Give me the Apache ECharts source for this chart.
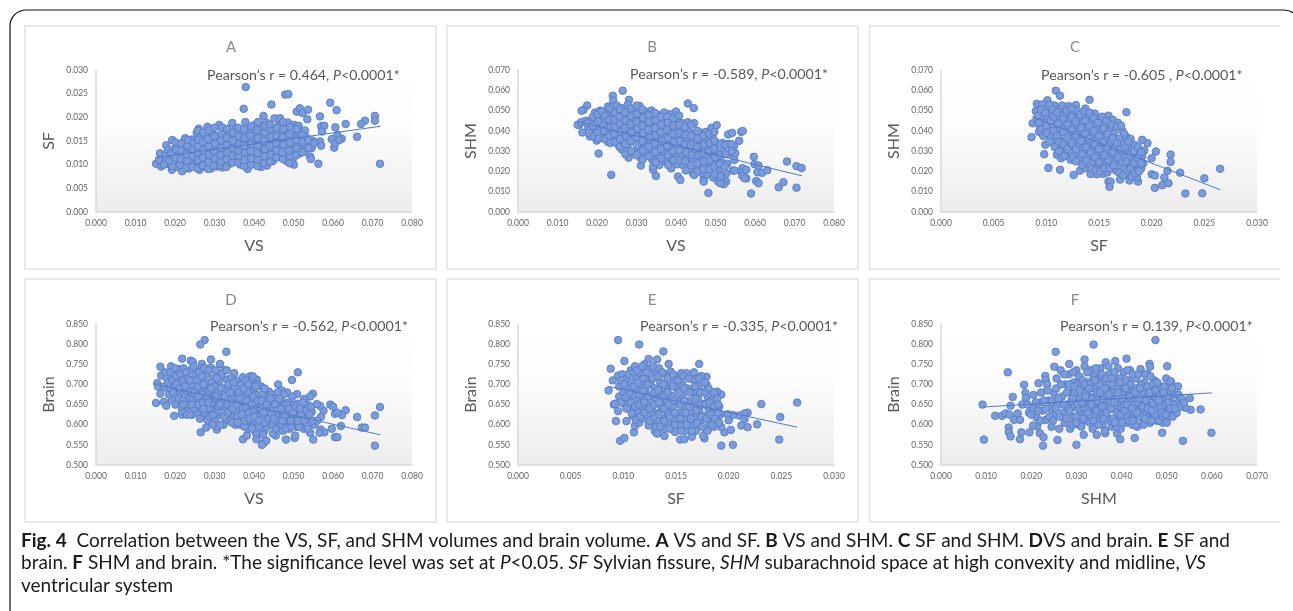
<!DOCTYPE html>
<html><head><meta charset="utf-8">
<style>html,body{margin:0;padding:0;background:#fff;overflow:hidden}#c{width:1293px;height:611px}</style>
<script src="https://cdn.jsdelivr.net/npm/echarts@6/dist/echarts.min.js"></script>
</head><body><div id="c"></div>
<script>
const pointsA=[[.0379,.0264],[.0479,.0248],[.0487,.0249],[.0374,.0218],[.0444,.0227],[.0593,.0231],[.0609,.0215],[.0508,.0212],[.0516,.0219],[.0523,.0209],[.0537,.0216],[.0535,.0196],[.0567,.0202],[.0706,.0203],[.0706,.0193],[.0681,.0193],[.0671,.0186],[.0632,.0186],[.0606,.0179],[.0570,.0181],[.0578,.0182],[.0572,.0170],[.0661,.0159],[.0719,.0102],[.0563,.0102],[.0622,.0155],[.0611,.0163],[.0597,.0154],[.0603,.0136],[.0605,.0145],[.0616,.0152],[.0567,.0149],[.0570,.0140],[.0546,.0135],[.0542,.0117],[.0544,.0112],
[.0152,.0102],[.0165,.0096],[.0170,.0109],[.0162,.0124],[.0178,.0141],[.0184,.0101],[.0188,.0116],[.0192,.0089],[.0196,.0131],[.0193,.0152],[.0205,.0095],[.0208,.0108],[.0210,.0122],[.0206,.0140],[.0218,.0086],[.0222,.0101],[.0220,.0115],[.0224,.0132],[.0222,.0148],[.0226,.0156],[.0235,.0092],[.0238,.0110],[.0236,.0125],[.0240,.0139],[.0242,.0153],[.0250,.0100],[.0252,.0117],[.0254,.0131],[.0250,.0146],[.0255,.0167],[.0262,.0089],[.0265,.0107],[.0263,.0122],[.0268,.0137],[.0262,.0157],[.0260,.0176],[.0275,.0096],[.0278,.0113],[.0280,.0128],[.0276,.0146],[.0278,.0162],[.0282,.0180],[.0292,.0092],[.0294,.0105],[.0291,.0120],[.0296,.0135],[.0290,.0151],[.0293,.0170],[.0306,.0096],[.0308,.0112],[.0304,.0127],[.0310,.0143],[.0306,.0160],[.0312,.0184],[.0320,.0094],[.0323,.0104],[.0322,.0119],[.0325,.0134],[.0321,.0152],[.0327,.0172],[.0336,.0101],[.0339,.0116],[.0337,.0130],[.0341,.0146],[.0338,.0163],[.0345,.0188],[.0352,.0108],[.0355,.0123],[.0351,.0138],[.0356,.0155],[.0353,.0176],[.0366,.0100],[.0368,.0115],[.0370,.0131],[.0367,.0147],[.0369,.0165],[.0378,.0190],[.0384,.0091],[.0385,.0108],[.0383,.0122],[.0386,.0139],[.0382,.0155],[.0388,.0172],[.0400,.0102],[.0402,.0117],[.0399,.0133],[.0403,.0148],[.0400,.0167],[.0402,.0184],[.0418,.0095],[.0416,.0110],[.0419,.0126],[.0417,.0142],[.0420,.0159],[.0424,.0203],[.0420,.0178],[.0433,.0098],[.0435,.0114],[.0432,.0131],[.0436,.0149],[.0433,.0168],[.0431,.0189],[.0448,.0108],[.0450,.0122],[.0447,.0138],[.0451,.0156],[.0449,.0174],[.0452,.0198],[.0466,.0198],[.0464,.0118],[.0466,.0133],[.0463,.0148],[.0467,.0165],[.0462,.0182],[.0482,.0108],[.0480,.0121],[.0483,.0137],[.0479,.0153],[.0484,.0171],[.0486,.0189],[.0501,.0100],[.0498,.0112],[.0503,.0127],[.0500,.0144],[.0497,.0162],[.0502,.0184],[.0516,.0124],[.0514,.0139],[.0518,.0155],[.0515,.0168],[.0513,.0182],[.0530,.0128],[.0528,.0142],[.0532,.0158],[.0529,.0172],[.0548,.0151],[.0552,.0146],
[.0160,.0110],[.0172,.0100],[.0176,.0120],[.0182,.0131],[.0186,.0108],[.0190,.0124],[.0194,.0096],[.0200,.0114],[.0201,.0147],[.0203,.0132],[.0212,.0100],[.0214,.0112],[.0215,.0130],[.0216,.0145],[.0228,.0094],[.0230,.0108],[.0229,.0122],[.0231,.0140],[.0233,.0152],[.0244,.0096],[.0245,.0118],[.0246,.0132],[.0247,.0146],[.0257,.0092],[.0258,.0110],[.0259,.0125],[.0258,.0139],[.0259,.0152],[.0258,.0172],[.0270,.0098],[.0271,.0115],[.0272,.0130],[.0270,.0148],[.0271,.0168],[.0284,.0091],[.0285,.0105],[.0286,.0121],[.0285,.0138],[.0284,.0154],[.0286,.0173],[.0298,.0098],[.0300,.0113],[.0299,.0128],[.0301,.0144],[.0300,.0160],[.0300,.0178],[.0314,.0098],[.0316,.0106],[.0315,.0120],[.0317,.0136],[.0316,.0151],[.0318,.0165],[.0319,.0179],[.0330,.0095],[.0331,.0112],[.0332,.0126],[.0330,.0141],[.0331,.0157],[.0332,.0176],[.0345,.0104],[.0346,.0119],[.0347,.0134],[.0346,.0150],[.0347,.0167],[.0360,.0105],[.0361,.0118],[.0360,.0130],[.0362,.0143],[.0361,.0160],[.0360,.0178],[.0375,.0097],[.0376,.0110],[.0377,.0125],[.0375,.0140],[.0376,.0156],[.0375,.0175],[.0392,.0100],[.0393,.0113],[.0392,.0128],[.0393,.0144],[.0391,.0162],[.0393,.0181],[.0408,.0097],[.0410,.0110],[.0409,.0124],[.0410,.0140],[.0409,.0156],[.0408,.0173],[.0410,.0190],[.0425,.0103],[.0426,.0118],[.0427,.0133],[.0426,.0150],[.0427,.0168],[.0428,.0182],[.0441,.0106],[.0442,.0121],[.0441,.0140],[.0442,.0158],[.0441,.0176],[.0440,.0185],[.0456,.0115],[.0457,.0130],[.0456,.0146],[.0457,.0162],[.0458,.0178],[.0473,.0112],[.0472,.0126],[.0474,.0142],[.0473,.0158],[.0474,.0175],[.0473,.0190],[.0490,.0103],[.0491,.0118],[.0490,.0130],[.0491,.0147],[.0490,.0165],[.0491,.0180],[.0507,.0120],[.0508,.0135],[.0507,.0152],[.0508,.0175],[.0522,.0126],[.0523,.0148],[.0522,.0163],[.0538,.0135],[.0537,.0152]];
const pointsB=[[.0265,.0598],[.0240,.0573],[.0241,.0550],[.0281,.0553],[.0430,.0535],[.0445,.0512],[.0175,.0525],[.0166,.0504],[.0161,.0499],[.0155,.0430],[.0151,.0430],[.0163,.0392],[.0204,.0288],[.0236,.0183],[.0311,.0229],[.0349,.0178],[.0342,.0208],[.0342,.0224],[.0405,.0175],[.0411,.0158],[.0443,.0191],[.0446,.0183],[.0470,.0158],[.0470,.0150],[.0482,.0094],[.0590,.0091],[.0660,.0122],[.0672,.0147],[.0705,.0120],[.0681,.0249],[.0705,.0226],[.0718,.0217],[.0597,.0272],[.0599,.0236],[.0609,.0229],[.0606,.0196],[.0618,.0193],[.0631,.0206],[.0603,.0153],[.0609,.0142],[.0568,.0216],[.0567,.0194],[.0578,.0208],[.0568,.0178],[.0578,.0166],[.0574,.0166],[.0565,.0395],[.0569,.0399],[.0532,.0382],[.0542,.0390],[.0560,.0351],[.0548,.0257],[.0544,.0204],[.0548,.0204],[.0527,.0188],[.0523,.0150],[.0527,.0150],[.0521,.0137],[.0507,.0150],[.0512,.0142],
[.0160,.0443],[.0172,.0450],[.0178,.0415],[.0182,.0372],[.0186,.0455],[.0195,.0490],[.0197,.0432],[.0195,.0395],[.0199,.0352],[.0208,.0500],[.0210,.0468],[.0206,.0412],[.0212,.0376],[.0215,.0448],[.0226,.0492],[.0228,.0520],[.0224,.0425],[.0225,.0390],[.0228,.0345],[.0238,.0505],[.0240,.0470],[.0236,.0438],[.0241,.0402],[.0238,.0362],[.0250,.0525],[.0252,.0488],[.0248,.0452],[.0254,.0415],[.0250,.0378],[.0252,.0338],[.0264,.0512],[.0266,.0470],[.0262,.0432],[.0268,.0395],[.0265,.0355],[.0263,.0308],[.0278,.0530],[.0280,.0492],[.0276,.0450],[.0282,.0412],[.0279,.0372],[.0277,.0328],[.0280,.0268],[.0293,.0500],[.0295,.0465],[.0291,.0428],[.0296,.0390],[.0292,.0350],[.0294,.0295],[.0308,.0522],[.0306,.0478],[.0310,.0440],[.0305,.0402],[.0309,.0362],[.0307,.0320],[.0310,.0268],[.0323,.0495],[.0325,.0458],[.0321,.0418],[.0326,.0380],[.0322,.0340],[.0324,.0290],[.0338,.0500],[.0340,.0470],[.0336,.0432],[.0341,.0392],[.0337,.0352],[.0339,.0308],[.0340,.0258],[.0354,.0478],[.0356,.0445],[.0352,.0405],[.0357,.0368],[.0353,.0325],[.0355,.0278],[.0358,.0232],[.0370,.0490],[.0372,.0455],[.0368,.0418],[.0373,.0380],[.0369,.0340],[.0371,.0295],[.0372,.0250],[.0385,.0482],[.0387,.0435],[.0383,.0398],[.0388,.0358],[.0384,.0315],[.0386,.0270],[.0388,.0215],[.0400,.0495],[.0402,.0455],[.0398,.0410],[.0403,.0372],[.0399,.0332],[.0401,.0285],[.0403,.0235],[.0416,.0438],[.0418,.0402],[.0414,.0360],[.0419,.0320],[.0415,.0278],[.0417,.0232],[.0430,.0442],[.0432,.0395],[.0428,.0352],[.0433,.0305],[.0429,.0262],[.0425,.0205],[.0446,.0438],[.0448,.0390],[.0444,.0345],[.0449,.0300],[.0445,.0255],[.0450,.0210],[.0462,.0392],[.0464,.0350],[.0460,.0310],[.0465,.0268],[.0461,.0225],[.0467,.0190],[.0476,.0395],[.0478,.0355],[.0474,.0312],[.0479,.0270],[.0475,.0228],[.0480,.0185],[.0490,.0415],[.0492,.0372],[.0488,.0328],[.0493,.0285],[.0489,.0240],[.0494,.0170],[.0503,.0428],[.0505,.0338],[.0501,.0300],[.0506,.0255],[.0509,.0215],[.0518,.0340],[.0520,.0298],[.0516,.0245],[.0515,.0180],[.0532,.0335],[.0535,.0288],[.0530,.0238],[.0547,.0325],[.0550,.0290],
[.0175,.0437],[.0180,.0390],[.0190,.0470],[.0190,.0425],[.0192,.0372],[.0202,.0482],[.0203,.0448],[.0201,.0390],[.0204,.0362],[.0213,.0495],[.0216,.0425],[.0218,.0400],[.0219,.0360],[.0220,.0475],[.0232,.0510],[.0231,.0455],[.0233,.0415],[.0232,.0375],[.0234,.0340],[.0245,.0490],[.0244,.0455],[.0246,.0420],[.0244,.0385],[.0245,.0345],[.0258,.0505],[.0257,.0470],[.0258,.0435],[.0259,.0395],[.0258,.0360],[.0257,.0320],[.0271,.0490],[.0272,.0450],[.0270,.0412],[.0273,.0375],[.0271,.0335],[.0272,.0285],[.0285,.0510],[.0286,.0472],[.0285,.0432],[.0287,.0392],[.0285,.0350],[.0286,.0300],[.0300,.0525],[.0301,.0482],[.0300,.0445],[.0302,.0410],[.0300,.0370],[.0301,.0330],[.0300,.0280],[.0315,.0505],[.0316,.0465],[.0315,.0425],[.0317,.0390],[.0315,.0350],[.0316,.0305],[.0316,.0260],[.0331,.0478],[.0332,.0445],[.0330,.0405],[.0333,.0365],[.0331,.0322],[.0332,.0275],[.0347,.0488],[.0348,.0452],[.0346,.0415],[.0348,.0378],[.0346,.0340],[.0347,.0295],[.0349,.0245],[.0362,.0470],[.0363,.0430],[.0361,.0392],[.0364,.0350],[.0362,.0310],[.0363,.0265],[.0378,.0470],[.0379,.0440],[.0377,.0405],[.0380,.0365],[.0378,.0325],[.0379,.0280],[.0380,.0232],[.0393,.0462],[.0394,.0425],[.0392,.0385],[.0395,.0345],[.0393,.0300],[.0394,.0255],[.0408,.0475],[.0409,.0430],[.0407,.0390],[.0410,.0350],[.0408,.0305],[.0409,.0255],[.0423,.0420],[.0424,.0380],[.0422,.0335],[.0425,.0295],[.0423,.0250],[.0438,.0430],[.0439,.0375],[.0437,.0330],[.0440,.0280],[.0438,.0230],[.0454,.0400],[.0455,.0362],[.0453,.0320],[.0456,.0280],[.0454,.0240],[.0455,.0200],[.0469,.0375],[.0470,.0332],[.0468,.0290],[.0471,.0248],[.0469,.0210],[.0484,.0385],[.0485,.0340],[.0483,.0300],[.0486,.0255],[.0484,.0210],[.0497,.0395],[.0498,.0350],[.0496,.0312],[.0499,.0270],[.0497,.0225],[.0499,.0185],[.0512,.0335],[.0513,.0280],[.0511,.0235],[.0513,.0175],[.0525,.0330],[.0526,.0285],[.0524,.0225],[.0540,.0335],[.0541,.0300]];
const pointsC=[[.0109,.0598],[.0113,.0573],[.0141,.0553],[.0176,.0492],[.0086,.0369],[.0098,.0285],[.0102,.0217],[.0113,.0208],[.0126,.0183],[.0132,.0204],[.0137,.0216],[.0159,.0150],[.0161,.0150],[.0160,.0124],[.0170,.0160],[.0187,.0150],[.0200,.0186],[.0203,.0180],[.0203,.0119],[.0210,.0132],[.0216,.0142],[.0212,.0170],[.0215,.0203],[.0218,.0283],[.0218,.0247],[.0227,.0194],[.0204,.0298],[.0200,.0265],[.0232,.0091],[.0248,.0092],[.0250,.0166],[.0265,.0213],[.0196,.0339],[.0191,.0356],[.0193,.0303],[.0087,.0437],[.0091,.0533],[.0101,.0551],[.0128,.0527],[.0148,.0186],[.0142,.0187],[.0154,.0188],
[.0090,.0497],[.0091,.0458],[.0094,.0420],[.0093,.0395],[.0096,.0530],[.0097,.0478],[.0098,.0440],[.0099,.0332],[.0100,.0512],[.0102,.0462],[.0101,.0405],[.0104,.0375],[.0105,.0490],[.0106,.0432],[.0108,.0350],[.0108,.0525],[.0110,.0465],[.0111,.0405],[.0110,.0282],[.0113,.0510],[.0114,.0445],[.0112,.0372],[.0114,.0325],[.0114,.0265],[.0117,.0480],[.0118,.0415],[.0118,.0350],[.0119,.0295],[.0121,.0522],[.0122,.0450],[.0121,.0385],[.0123,.0320],[.0123,.0258],[.0125,.0490],[.0126,.0428],[.0126,.0362],[.0127,.0285],[.0129,.0500],[.0130,.0460],[.0130,.0395],[.0131,.0330],[.0132,.0262],[.0134,.0435],[.0135,.0368],[.0135,.0300],[.0136,.0238],[.0137,.0510],[.0138,.0470],[.0139,.0405],[.0140,.0340],[.0140,.0275],[.0142,.0445],[.0143,.0378],[.0143,.0310],[.0144,.0245],[.0146,.0485],[.0147,.0420],[.0148,.0355],[.0148,.0290],[.0149,.0225],[.0151,.0455],[.0152,.0392],[.0152,.0325],[.0153,.0260],[.0155,.0430],[.0156,.0370],[.0156,.0300],[.0157,.0235],[.0158,.0195],[.0159,.0475],[.0160,.0405],[.0161,.0340],[.0161,.0275],[.0163,.0455],[.0164,.0385],[.0165,.0315],[.0165,.0250],[.0166,.0205],[.0168,.0440],[.0169,.0360],[.0170,.0290],[.0170,.0225],[.0172,.0400],[.0173,.0335],[.0174,.0265],[.0175,.0190],[.0176,.0370],[.0177,.0300],[.0178,.0235],[.0179,.0155],[.0180,.0360],[.0181,.0315],[.0182,.0265],[.0182,.0205],[.0184,.0330],[.0185,.0285],[.0186,.0235],[.0186,.0170],[.0188,.0300],[.0189,.0255],[.0190,.0215],[.0191,.0275],[.0192,.0240],
[.0092,.0475],[.0093,.0440],[.0095,.0505],[.0095,.0405],[.0097,.0375],[.0099,.0490],[.0100,.0425],[.0100,.0390],[.0103,.0530],[.0104,.0448],[.0103,.0345],[.0106,.0505],[.0107,.0470],[.0107,.0400],[.0108,.0320],[.0110,.0490],[.0111,.0435],[.0110,.0375],[.0112,.0345],[.0112,.0300],[.0115,.0525],[.0116,.0460],[.0116,.0395],[.0116,.0335],[.0117,.0275],[.0119,.0500],[.0120,.0430],[.0120,.0365],[.0120,.0310],[.0124,.0510],[.0124,.0470],[.0124,.0405],[.0124,.0340],[.0125,.0270],[.0128,.0445],[.0128,.0380],[.0128,.0310],[.0128,.0250],[.0132,.0480],[.0133,.0415],[.0133,.0350],[.0134,.0285],[.0134,.0230],[.0136,.0495],[.0137,.0450],[.0137,.0385],[.0138,.0320],[.0138,.0255],[.0141,.0490],[.0141,.0425],[.0141,.0360],[.0142,.0295],[.0143,.0215],[.0145,.0465],[.0145,.0400],[.0146,.0335],[.0146,.0270],[.0147,.0205],[.0149,.0440],[.0150,.0375],[.0150,.0310],[.0150,.0245],[.0151,.0200],[.0153,.0470],[.0154,.0410],[.0154,.0345],[.0155,.0280],[.0155,.0215],[.0157,.0450],[.0158,.0385],[.0158,.0320],[.0159,.0255],[.0160,.0215],[.0162,.0430],[.0163,.0365],[.0163,.0295],[.0164,.0230],[.0167,.0420],[.0167,.0340],[.0168,.0270],[.0169,.0195],[.0171,.0425],[.0171,.0310],[.0172,.0245],[.0173,.0180],[.0174,.0385],[.0175,.0320],[.0176,.0250],[.0177,.0205],[.0178,.0345],[.0179,.0280],[.0180,.0215],[.0181,.0175],[.0183,.0300],[.0183,.0240],[.0184,.0190],[.0187,.0320],[.0187,.0265],[.0188,.0200],[.0190,.0240],[.0190,.0295]];
const pointsD=[[.0275,.810],[.0264,.799],[.0330,.781],[.0218,.764],[.0240,.759],[.0245,.756],[.0163,.744],[.0291,.762],[.0268,.751],[.0314,.751],[.0152,.654],[.0172,.657],[.0178,.647],[.0198,.622],[.0218,.625],[.0218,.633],[.0163,.677],[.0279,.593],[.0265,.581],[.0306,.588],[.0308,.596],[.0372,.564],[.0382,.573],[.0406,.564],[.0424,.554],[.0431,.560],[.0420,.550],[.0455,.573],[.0481,.563],[.0503,.567],[.0504,.573],[.0550,.563],[.0706,.548],[.0673,.593],[.0681,.593],[.0620,.597],[.0597,.590],[.0605,.569],[.0611,.569],[.0706,.623],[.0719,.644],[.0661,.619],[.0632,.636],[.0623,.624],[.0605,.627],[.0611,.630],[.0593,.650],[.0600,.645],[.0576,.635],[.0567,.647],[.0559,.651],[.0570,.620],[.0569,.588],[.0578,.581],[.0566,.580],[.0511,.730],[.0496,.711],[.0461,.700],[.0509,.676],[.0549,.677],[.0542,.670],[.0527,.664],
[.0155,.703],[.0157,.695],[.0165,.722],[.0178,.717],[.0182,.690],[.0190,.745],[.0192,.662],[.0195,.725],[.0198,.698],[.0205,.680],[.0208,.738],[.0210,.712],[.0213,.655],[.0218,.692],[.0222,.740],[.0224,.672],[.0226,.720],[.0232,.645],[.0234,.700],[.0236,.665],[.0240,.735],[.0241,.682],[.0243,.625],[.0248,.712],[.0250,.652],[.0252,.725],[.0254,.690],[.0256,.630],[.0262,.670],[.0264,.707],[.0266,.740],[.0268,.640],[.0270,.620],[.0275,.685],[.0277,.655],[.0280,.725],[.0282,.612],[.0285,.700],[.0288,.665],[.0290,.742],[.0292,.635],[.0297,.715],[.0299,.680],[.0302,.610],[.0305,.650],[.0308,.700],[.0310,.728],[.0312,.625],[.0317,.665],[.0320,.690],[.0323,.600],[.0325,.735],[.0328,.640],[.0332,.712],[.0335,.675],[.0338,.610],[.0340,.655],[.0344,.695],[.0348,.625],[.0350,.728],[.0353,.600],[.0357,.665],[.0360,.640],[.0363,.705],[.0366,.680],[.0370,.612],[.0372,.718],[.0375,.655],[.0378,.625],[.0382,.695],[.0385,.590],[.0387,.665],[.0390,.720],[.0392,.640],[.0396,.605],[.0399,.685],[.0402,.655],[.0405,.580],[.0407,.712],[.0410,.625],[.0414,.670],[.0418,.695],[.0420,.600],[.0423,.645],[.0426,.585],[.0430,.668],[.0434,.620],[.0438,.682],[.0440,.600],[.0444,.650],[.0448,.578],[.0452,.630],[.0455,.675],[.0458,.605],[.0462,.650],[.0466,.622],[.0470,.685],[.0473,.585],[.0476,.640],[.0480,.605],[.0484,.680],[.0486,.625],[.0490,.590],[.0494,.650],[.0498,.612],[.0503,.635],[.0507,.595],[.0510,.652],[.0514,.620],[.0518,.605],[.0522,.640],[.0526,.590],[.0530,.625],[.0534,.650],[.0538,.610],[.0542,.580],[.0546,.632],[.0552,.600],[.0560,.610],
[.0172,.695],[.0175,.730],[.0183,.705],[.0185,.675],[.0188,.730],[.0193,.710],[.0195,.680],[.0200,.740],[.0201,.650],[.0203,.720],[.0204,.700],[.0210,.665],[.0212,.690],[.0214,.725],[.0216,.645],[.0220,.710],[.0221,.660],[.0228,.730],[.0229,.685],[.0230,.625],[.0233,.715],[.0235,.650],[.0237,.690],[.0239,.625],[.0244,.700],[.0245,.665],[.0247,.745],[.0248,.640],[.0252,.672],[.0256,.710],[.0258,.650],[.0260,.730],[.0261,.690],[.0263,.615],[.0268,.720],[.0270,.675],[.0271,.655],[.0274,.740],[.0275,.630],[.0279,.705],[.0281,.670],[.0283,.640],[.0286,.735],[.0287,.685],[.0289,.620],[.0293,.705],[.0294,.655],[.0295,.600],[.0300,.695],[.0301,.665],[.0303,.735],[.0304,.630],[.0309,.680],[.0311,.645],[.0313,.710],[.0315,.600],[.0318,.725],[.0320,.630],[.0322,.655],[.0327,.690],[.0329,.615],[.0331,.735],[.0333,.650],[.0336,.700],[.0338,.635],[.0342,.715],[.0343,.675],[.0345,.605],[.0347,.650],[.0351,.690],[.0353,.635],[.0355,.710],[.0358,.620],[.0361,.680],[.0362,.655],[.0365,.600],[.0368,.700],[.0371,.640],[.0373,.670],[.0376,.595],[.0379,.710],[.0380,.645],[.0383,.610],[.0385,.680],[.0388,.630],[.0391,.700],[.0393,.665],[.0395,.590],[.0397,.720],[.0400,.635],[.0403,.610],[.0405,.675],[.0408,.645],[.0410,.700],[.0412,.595],[.0416,.650],[.0418,.625],[.0421,.675],[.0423,.575],[.0425,.615],[.0427,.690],[.0430,.640],[.0433,.595],[.0436,.655],[.0439,.630],[.0442,.610],[.0443,.675],[.0447,.600],[.0449,.640],[.0451,.665],[.0455,.590],[.0457,.625],[.0460,.680],[.0463,.610],[.0465,.640],[.0468,.660],[.0471,.600],[.0474,.625],[.0476,.675],[.0479,.650],[.0481,.590],[.0483,.630],[.0487,.655],[.0489,.610],[.0492,.630],[.0495,.595],[.0497,.670],[.0500,.650],[.0503,.610],[.0506,.625],[.0512,.640],[.0514,.595],[.0519,.625],[.0523,.655],[.0528,.610],[.0532,.635],[.0536,.590],[.0540,.625],[.0544,.645],[.0548,.610],
[.0220,.650],[.0226,.695],[.0238,.710],[.0242,.650],[.0249,.680],[.0258,.695],[.0259,.670],[.0272,.700],[.0272,.640],[.0284,.655],[.0291,.690],[.0296,.625],[.0303,.670],[.0306,.715],[.0314,.650],[.0316,.690],[.0324,.620],[.0326,.670],[.0334,.630],[.0339,.680],[.0346,.640],[.0349,.705],[.0356,.650],[.0359,.605],[.0364,.665],[.0369,.625],[.0374,.690],[.0377,.610],[.0381,.660],[.0386,.700],[.0389,.615],[.0394,.650],[.0398,.670],[.0401,.620],[.0404,.695],[.0409,.660],[.0413,.610],[.0417,.640],[.0420,.660],[.0424,.630],[.0428,.605],[.0432,.650],[.0437,.615],[.0441,.665],[.0445,.625],[.0450,.615],[.0453,.650],[.0459,.635],[.0464,.665],[.0469,.640],[.0472,.610],[.0478,.625],[.0482,.650],[.0488,.640],[.0493,.610],[.0499,.630],[.0505,.645],[.0511,.610],[.0516,.640]];
const pointsE=[[.0095,.810],[.0115,.799],[.0138,.782],[.0101,.758],[.0088,.739],[.0124,.763],[.0132,.762],[.0143,.751],[.0172,.751],[.0086,.685],[.0090,.710],[.0091,.650],[.0092,.652],[.0095,.634],[.0093,.609],[.0103,.609],[.0097,.560],[.0101,.567],[.0110,.581],[.0111,.597],[.0130,.584],[.0132,.578],[.0139,.572],[.0154,.563],[.0158,.564],[.0165,.570],[.0177,.566],[.0176,.572],[.0193,.548],[.0204,.550],[.0196,.581],[.0202,.587],[.0193,.594],[.0227,.601],[.0212,.598],[.0218,.594],[.0248,.563],[.0249,.619],[.0265,.655],[.0231,.651],[.0218,.630],[.0215,.628],[.0210,.623],[.0215,.614],[.0204,.624],[.0199,.626],[.0200,.611],[.0193,.675],[.0179,.719],[.0174,.721],[.0189,.682],
[.0095,.722],[.0096,.695],[.0096,.670],[.0099,.725],[.0100,.680],[.0101,.652],[.0103,.715],[.0104,.695],[.0105,.665],[.0106,.640],[.0107,.735],[.0108,.705],[.0109,.675],[.0109,.622],[.0111,.745],[.0112,.720],[.0112,.690],[.0113,.660],[.0114,.630],[.0115,.605],[.0116,.728],[.0117,.700],[.0117,.672],[.0118,.645],[.0119,.615],[.0120,.750],[.0121,.715],[.0121,.685],[.0122,.655],[.0123,.625],[.0124,.598],[.0125,.738],[.0126,.700],[.0127,.670],[.0127,.640],[.0128,.610],[.0130,.725],[.0130,.690],[.0131,.660],[.0132,.628],[.0133,.600],[.0134,.740],[.0135,.705],[.0135,.675],[.0136,.645],[.0137,.615],[.0138,.590],[.0140,.725],[.0140,.690],[.0141,.660],[.0142,.630],[.0143,.600],[.0145,.732],[.0145,.705],[.0146,.672],[.0147,.645],[.0148,.615],[.0149,.582],[.0150,.720],[.0151,.690],[.0152,.660],[.0153,.630],[.0154,.598],[.0155,.728],[.0156,.700],[.0156,.672],[.0157,.645],[.0158,.612],[.0159,.585],[.0160,.728],[.0161,.690],[.0162,.658],[.0163,.628],[.0164,.598],[.0166,.712],[.0166,.680],[.0167,.650],[.0168,.618],[.0169,.585],[.0171,.698],[.0171,.668],[.0172,.638],[.0173,.605],[.0175,.682],[.0176,.652],[.0177,.622],[.0178,.590],[.0179,.700],[.0180,.670],[.0181,.640],[.0182,.608],[.0184,.660],[.0185,.630],[.0186,.595],[.0187,.678],[.0188,.648],[.0189,.618],[.0191,.645],[.0192,.625],
[.0098,.710],[.0098,.655],[.0101,.700],[.0102,.668],[.0103,.640],[.0105,.725],[.0106,.680],[.0107,.655],[.0108,.628],[.0110,.730],[.0110,.695],[.0111,.645],[.0112,.612],[.0113,.735],[.0114,.705],[.0115,.675],[.0115,.650],[.0116,.620],[.0118,.745],[.0119,.715],[.0119,.685],[.0120,.655],[.0120,.630],[.0122,.730],[.0123,.700],[.0124,.670],[.0125,.640],[.0125,.610],[.0128,.745],[.0128,.715],[.0129,.680],[.0129,.650],[.0130,.620],[.0131,.595],[.0133,.720],[.0133,.685],[.0134,.655],[.0134,.625],[.0135,.595],[.0137,.730],[.0138,.700],[.0138,.670],[.0139,.640],[.0139,.610],[.0142,.715],[.0142,.680],[.0143,.650],[.0144,.620],[.0144,.590],[.0147,.725],[.0147,.695],[.0148,.660],[.0149,.630],[.0149,.600],[.0152,.710],[.0153,.680],[.0154,.650],[.0154,.615],[.0155,.585],[.0157,.720],[.0158,.690],[.0158,.660],[.0159,.630],[.0160,.600],[.0162,.715],[.0163,.680],[.0163,.645],[.0164,.615],[.0165,.585],[.0167,.730],[.0168,.695],[.0168,.665],[.0169,.635],[.0170,.605],[.0172,.715],[.0173,.680],[.0174,.650],[.0174,.620],[.0175,.595],[.0177,.705],[.0178,.680],[.0178,.650],[.0179,.615],[.0180,.585],[.0181,.690],[.0182,.655],[.0183,.625],[.0184,.600],[.0186,.680],[.0186,.645],[.0187,.615],[.0189,.665],[.0190,.630],[.0191,.605],[.0190,.650]];
const pointsF=[[.0475,.810],[.0338,.799],[.0254,.781],[.0148,.730],[.0092,.650],[.0095,.563],[.0251,.744],[.0284,.751],[.0318,.762],[.0411,.764],[.0386,.758],[.0501,.745],[.0462,.751],[.0463,.744],[.0184,.699],[.0216,.703],[.0231,.721],[.0232,.711],[.0159,.669],[.0205,.674],[.0187,.679],[.0188,.666],[.0120,.622],[.0135,.622],[.0143,.628],[.0150,.593],[.0150,.582],[.0154,.571],[.0175,.564],[.0178,.581],[.0196,.581],[.0213,.596],[.0219,.579],[.0227,.569],[.0226,.548],[.0258,.562],[.0300,.550],[.0364,.579],[.0390,.578],[.0397,.564],[.0429,.567],[.0490,.580],[.0536,.560],[.0599,.580],[.0551,.666],[.0553,.637],[.0575,.638],[.0154,.647],[.0162,.612],[.0152,.625],[.0180,.650],[.0175,.612],[.0170,.628],[.0204,.598],[.0195,.630],
[.0192,.650],[.0205,.640],[.0212,.618],[.0218,.655],[.0222,.680],[.0225,.635],[.0232,.612],[.0235,.700],[.0238,.660],[.0242,.640],[.0245,.595],[.0250,.680],[.0252,.622],[.0256,.715],[.0258,.650],[.0262,.590],[.0265,.735],[.0268,.670],[.0270,.630],[.0274,.605],[.0276,.700],[.0280,.650],[.0283,.725],[.0286,.590],[.0288,.680],[.0290,.620],[.0294,.705],[.0297,.645],[.0300,.735],[.0302,.665],[.0305,.600],[.0308,.715],[.0310,.630],[.0313,.685],[.0316,.575],[.0318,.745],[.0321,.650],[.0323,.610],[.0326,.705],[.0329,.670],[.0332,.735],[.0334,.635],[.0336,.590],[.0340,.690],[.0342,.655],[.0345,.575],[.0348,.720],[.0350,.620],[.0353,.740],[.0355,.675],[.0358,.600],[.0360,.705],[.0362,.640],[.0365,.755],[.0368,.660],[.0370,.615],[.0373,.725],[.0376,.690],[.0378,.595],[.0381,.640],[.0384,.670],[.0387,.710],[.0389,.615],[.0392,.740],[.0395,.650],[.0398,.590],[.0400,.695],[.0403,.625],[.0405,.730],[.0408,.670],[.0411,.605],[.0414,.710],[.0416,.645],[.0419,.735],[.0421,.685],[.0424,.600],[.0427,.625],[.0430,.660],[.0432,.715],[.0435,.595],[.0437,.690],[.0440,.640],[.0442,.738],[.0445,.665],[.0448,.612],[.0450,.705],[.0453,.680],[.0456,.630],[.0458,.725],[.0460,.650],[.0463,.605],[.0465,.695],[.0468,.670],[.0471,.625],[.0473,.710],[.0476,.645],[.0478,.610],[.0481,.680],[.0484,.655],[.0486,.695],[.0488,.620],[.0491,.605],[.0494,.668],[.0496,.640],[.0499,.715],[.0501,.690],[.0504,.620],[.0506,.655],[.0509,.708],[.0511,.635],[.0514,.675],[.0517,.695],[.0520,.628],[.0523,.652],[.0525,.695],[.0528,.660],[.0535,.650],[.0541,.642],
[.0200,.625],[.0210,.655],[.0215,.635],[.0220,.610],[.0228,.660],[.0232,.640],[.0236,.685],[.0240,.620],[.0246,.660],[.0248,.610],[.0254,.640],[.0255,.690],[.0260,.665],[.0263,.620],[.0266,.700],[.0272,.650],[.0273,.725],[.0278,.615],[.0279,.680],[.0282,.640],[.0284,.700],[.0289,.660],[.0292,.600],[.0293,.730],[.0296,.680],[.0298,.620],[.0301,.700],[.0304,.640],[.0306,.720],[.0309,.665],[.0311,.595],[.0314,.710],[.0316,.650],[.0319,.625],[.0322,.680],[.0324,.730],[.0327,.640],[.0330,.605],[.0331,.700],[.0335,.665],[.0338,.720],[.0339,.620],[.0343,.740],[.0345,.680],[.0347,.640],[.0349,.600],[.0351,.700],[.0354,.650],[.0356,.725],[.0359,.625],[.0361,.675],[.0363,.585],[.0366,.715],[.0367,.690],[.0369,.640],[.0371,.745],[.0374,.660],[.0375,.610],[.0378,.715],[.0380,.680],[.0382,.615],[.0384,.730],[.0386,.645],[.0388,.595],[.0391,.690],[.0393,.665],[.0394,.625],[.0397,.715],[.0399,.640],[.0401,.605],[.0404,.680],[.0406,.650],[.0408,.710],[.0410,.625],[.0413,.735],[.0415,.670],[.0417,.610],[.0420,.700],[.0422,.650],[.0425,.725],[.0426,.685],[.0428,.630],[.0431,.600],[.0433,.690],[.0436,.655],[.0438,.725],[.0440,.620],[.0443,.700],[.0444,.640],[.0446,.680],[.0449,.600],[.0451,.655],[.0453,.725],[.0455,.625],[.0457,.695],[.0459,.670],[.0461,.635],[.0464,.720],[.0466,.610],[.0469,.700],[.0470,.650],[.0472,.685],[.0474,.625],[.0477,.665],[.0479,.705],[.0480,.640],[.0483,.610],[.0485,.675],[.0487,.645],[.0490,.690],[.0492,.620],[.0495,.695],[.0497,.650],[.0500,.605],[.0502,.670],[.0504,.635],[.0507,.685],[.0510,.655],[.0513,.620],[.0516,.650],[.0519,.675],[.0522,.630],[.0526,.675],[.0530,.645],[.0533,.665],[.0538,.655],
[.0285,.635],[.0291,.665],[.0295,.695],[.0299,.605],[.0303,.650],[.0307,.685],[.0312,.655],[.0315,.615],[.0317,.700],[.0320,.670],[.0325,.630],[.0328,.690],[.0333,.650],[.0337,.610],[.0341,.710],[.0344,.635],[.0346,.660],[.0352,.680],[.0357,.645],[.0360,.615],[.0364,.690],[.0367,.630],[.0372,.675],[.0377,.640],[.0379,.700],[.0383,.655],[.0385,.605],[.0390,.630],[.0392,.680],[.0396,.705],[.0398,.625],[.0402,.665],[.0407,.635],[.0409,.690],[.0412,.650],[.0418,.670],[.0423,.640],[.0425,.610],[.0429,.680],[.0434,.630],[.0439,.665],[.0441,.690],[.0447,.645],[.0452,.615],[.0454,.660],[.0458,.640],[.0462,.680],[.0467,.635],[.0475,.685],[.0482,.660],[.0489,.630],[.0493,.680],[.0498,.625],[.0503,.655],[.0508,.640],[.0512,.690],[.0518,.640]];
const trendA=[[.015,.0115],[.072,.0181]];
const trendB=[[.015,.0445],[.072,.0178]];
const trendC=[[.0086,.047],[.0265,.011]];
const trendD=[[.015,.700],[.072,.575]];
const trendE=[[.0086,.695],[.0265,.594]];
const trendF=[[.0094,.644],[.060,.679]];
const panelNames=['A','B','C','D','E','F'];
const xNames=['VS','VS','SF','VS','SF','SHM'];
const yNames=['SF','SHM','SHM','Brain','Brain','Brain'];
const xMaxes=[.08,.08,.03,.08,.03,.07];
const xSteps=[.01,.01,.005,.01,.005,.01];
const yMins=[0,0,0,.5,.5,.5];
const yMaxes=[.03,.07,.07,.85,.85,.85];
const ySteps=[.005,.01,.01,.05,.05,.05];
const rValues=['0.464, ','-0.589, ','-0.605 , ','-0.562, ','-0.335, ','0.139, '];
const pointSets=[pointsA,pointsB,pointsC,pointsD,pointsE,pointsF];
const trendSets=[trendA,trendB,trendC,trendD,trendE,trendF];

const plotX=[96,518,941,96,518,941], plotY=[70,70,70,324,324,324];
const frameX=[25,447,869.5,25,447,869.5], frameY=[26,26,26,279,279,279];
const noteX=[207,630,1041,210,640,1060], noteY=[75,74,75,326,326,326];
const titleX=[231,652,1075,231,652,1075], titleY=[47,47,47,300,300,300];
const plotW=316, plotH=[142,142,142,141,141,141];
const FONT='Lato';
const grids=[],xAxes=[],yAxes=[],series=[],graphic=[];
graphic.push({type:'rect',silent:true,z:-20,shape:{x:10,y:10,width:1290,height:720,r:16},style:{fill:'#fff',stroke:'#111',lineWidth:1.2}});
for(let i=0;i<6;i++){
  const fx=frameX[i],fy=frameY[i],w=411,h=243;
  if(i%3===2){
    graphic.push({type:'rect',silent:true,z:-10,shape:{x:fx,y:fy,width:w,height:h},style:{fill:'#fff'}});
    graphic.push({type:'polyline',silent:true,z:-9,shape:{points:[[fx+w,fy],[fx,fy],[fx,fy+h],[fx+w,fy+h]]},style:{fill:'none',stroke:'#e2e2e2',lineWidth:1.5}});
  }else{
    graphic.push({type:'rect',silent:true,z:-10,shape:{x:fx,y:fy,width:w,height:h},style:{fill:'#fff',stroke:'#e2e2e2',lineWidth:1.5}});
  }
  graphic.push({type:'text',silent:true,style:{x:titleX[i],y:titleY[i],text:panelNames[i],align:'center',verticalAlign:'middle',font:'15px '+FONT,fill:'#8a8a8a'}});
  graphic.push({type:'text',silent:true,style:{x:noteX[i],y:noteY[i],verticalAlign:'middle',
    text:'{n|Pearson\u2019s r = '+rValues[i]+'}{i|P}{n|<0.0001*}',
    rich:{n:{font:'14.2px '+FONT,fill:'#595959'},i:{font:'italic 14.2px '+FONT,fill:'#595959'}}}});
  grids.push({left:plotX[i],top:plotY[i],width:plotW,height:plotH[i],show:true,borderWidth:0,
    backgroundColor:{type:'linear',x:0,y:0,x2:0,y2:1,colorStops:[{offset:0,color:'#ffffff'},{offset:.4,color:'#fcfcfc'},{offset:1,color:'#ededed'}]}});
  const axisCommon={gridIndex:i,type:'value',splitLine:{show:false},axisTick:{show:false},
    axisLine:{show:true,onZero:false,lineStyle:{color:'#d9d9d9',width:1.5}},
    axisLabel:{color:'#666',fontSize:8.5,fontFamily:FONT,formatter:v=>v.toFixed(3)},
    nameLocation:'middle',nameTextStyle:{color:'#595959',fontSize:16,fontFamily:FONT}};
  xAxes.push(Object.assign({},axisCommon,{min:0,max:xMaxes[i],interval:xSteps[i],name:xNames[i],nameGap:26,axisLabel:Object.assign({},axisCommon.axisLabel,{margin:7})}));
  yAxes.push(Object.assign({},axisCommon,{min:yMins[i],max:yMaxes[i],interval:ySteps[i],name:yNames[i],nameGap:39,axisLabel:Object.assign({},axisCommon.axisLabel,{margin:8})}));
  series.push({type:'scatter',xAxisIndex:i,yAxisIndex:i,data:pointSets[i],symbolSize:7.5,silent:true,animation:false,large:false,
    itemStyle:{color:'#7b9bd9',borderColor:'#5a80cb',borderWidth:1,opacity:1}});
  series.push({type:'line',xAxisIndex:i,yAxisIndex:i,data:trendSets[i],symbol:'none',silent:true,animation:false,z:5,
    lineStyle:{color:'#4f7ac8',width:1}});
}
const CF='Lato';
const cap={b:{font:'bold 19px '+CF,fill:'#1a1a1a'},n:{font:'19px '+CF,fill:'#1a1a1a'},i:{font:'italic 19px '+CF,fill:'#1a1a1a'}};
const captionLines=[
 '{b|Fig. 4}{n|  Correlation between the VS, SF, and SHM volumes and brain volume. }{b|A}{n| VS and SF. }{b|B}{n| VS and SHM. }{b|C}{n| SF and SHM. }{b|D}{n|VS and brain. }{b|E}{n| SF and}',
 '{n|brain. }{b|F}{n| SHM and brain. *The significance level was set at }{i|P}{n|<0.05. }{i|SF}{n| Sylvian fissure, }{i|SHM}{n| subarachnoid space at high convexity and midline, }{i|VS}',
 '{n|ventricular system}'];
const capY=[541,563,586];
captionLines.forEach((t,k)=>graphic.push({type:'text',silent:true,style:{x:21,y:capY[k],verticalAlign:'middle',text:t,rich:cap}}));
const chart=echarts.init(document.getElementById('c'),null,{renderer:'canvas'});
chart.setOption({animation:false,backgroundColor:'#fff',grid:grids,xAxis:xAxes,yAxis:yAxes,series:series,graphic:graphic});
</script></body></html>
